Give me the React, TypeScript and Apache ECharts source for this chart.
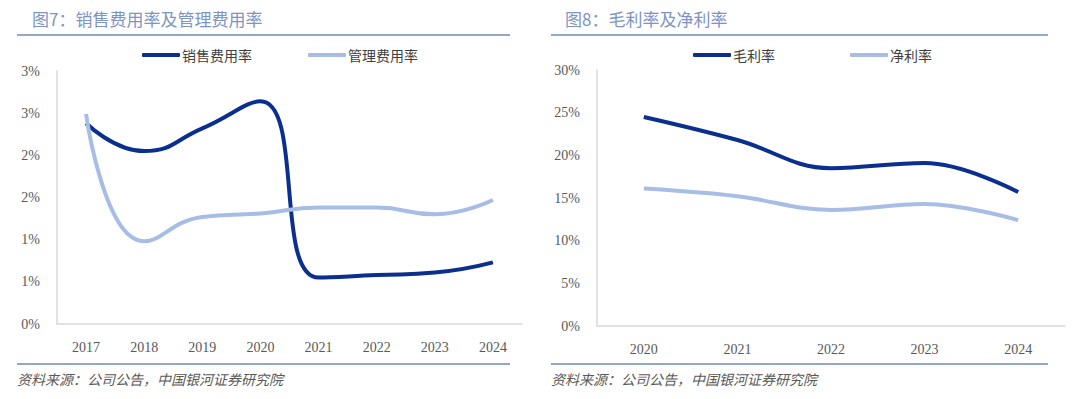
import React, { useEffect, useRef } from "react";
import * as echarts from "echarts";

const leftYears = ["2017", "2018", "2019", "2020", "2021", "2022", "2023", "2024"];
const salesExpenseRate = [2.38, 2.05, 2.32, 2.64, 0.55, 0.58, 0.61, 0.73];
const adminExpenseRate = [2.49, 0.98, 1.27, 1.31, 1.38, 1.38, 1.3, 1.47];
const leftTickLabels = ["0%", "1%", "1%", "2%", "2%", "3%", "3%"];

const rightYears = ["2020", "2021", "2022", "2023", "2024"];
const grossMargin = [24.5, 21.8, 18.5, 19.1, 15.7];
const netMargin = [16.1, 15.2, 13.6, 14.3, 12.4];
const rightTickLabels = ["0%", "5%", "10%", "15%", "20%", "25%", "30%"];

const DARK = "#0b2f8e";
const LIGHT = "#a7bde6";
const AXIS_TEXT = "#595959";
const CJK = "'Noto Sans CJK SC', 'Noto Sans', sans-serif";
const NUM = "'Liberation Serif', 'DejaVu Serif', serif";

export default function App() {
  const ref = useRef<HTMLDivElement>(null);
  useEffect(() => {
    document.body.style.margin = "0";
    const chart = echarts.init(ref.current!, null, { renderer: "svg" });
    const axisLabel = { color: AXIS_TEXT, fontFamily: NUM, fontSize: 14 };
    const lineStyleAxis = { show: true, lineStyle: { color: "#d9d9d9", width: 1.5 } };
    const legendText = { fontFamily: CJK, fontSize: 14, color: "#404040", padding: [0, 0, 0, -3] };
    chart.setOption({
      animation: false,
      backgroundColor: "#ffffff",
      grid: [
        { left: 57, top: 71, width: 465, height: 253 },
        { left: 597, top: 70, width: 468, height: 256 },
      ],
      legend: [
        {
          data: ["销售费用率", "管理费用率"],
          left: 142,
          top: 48,
          padding: 0,
          itemWidth: 38,
          itemHeight: 4,
          itemGap: 56,
          icon: "roundRect",
          textStyle: legendText,
        },
        {
          data: ["毛利率", "净利率"],
          left: 693,
          top: 48,
          padding: 0,
          itemWidth: 38,
          itemHeight: 4,
          itemGap: 75,
          icon: "roundRect",
          textStyle: legendText,
        },
      ],
      xAxis: [
        {
          type: "category",
          gridIndex: 0,
          data: leftYears,
          axisLine: lineStyleAxis,
          axisTick: { show: false },
          axisLabel: { ...axisLabel, margin: 16 },
        },
        {
          type: "category",
          gridIndex: 1,
          data: rightYears,
          axisLine: lineStyleAxis,
          axisTick: { show: false },
          axisLabel: { ...axisLabel, margin: 16 },
        },
      ],
      yAxis: [
        {
          type: "value",
          gridIndex: 0,
          min: 0,
          max: 3,
          interval: 0.5,
          axisLine: lineStyleAxis,
          axisTick: { show: false },
          splitLine: { show: false },
          axisLabel: { ...axisLabel, margin: 17, formatter: (_v: number, i: number) => leftTickLabels[i] },
        },
        {
          type: "value",
          gridIndex: 1,
          min: 0,
          max: 30,
          interval: 5,
          axisLine: lineStyleAxis,
          axisTick: { show: false },
          splitLine: { show: false },
          axisLabel: { ...axisLabel, margin: 17, formatter: (_v: number, i: number) => rightTickLabels[i] },
        },
      ],
      series: [
        {
          name: "销售费用率",
          type: "line",
          xAxisIndex: 0,
          yAxisIndex: 0,
          data: salesExpenseRate,
          smooth: 0.5,
          showSymbol: false,
          color: DARK,
          lineStyle: { width: 4, color: DARK },
        },
        {
          name: "管理费用率",
          type: "line",
          xAxisIndex: 0,
          yAxisIndex: 0,
          data: adminExpenseRate,
          smooth: 0.5,
          showSymbol: false,
          color: LIGHT,
          lineStyle: { width: 4, color: LIGHT },
        },
        {
          name: "毛利率",
          type: "line",
          xAxisIndex: 1,
          yAxisIndex: 1,
          data: grossMargin,
          smooth: 0.4,
          showSymbol: false,
          color: DARK,
          lineStyle: { width: 4, color: DARK },
        },
        {
          name: "净利率",
          type: "line",
          xAxisIndex: 1,
          yAxisIndex: 1,
          data: netMargin,
          smooth: 0.4,
          showSymbol: false,
          color: LIGHT,
          lineStyle: { width: 4, color: LIGHT },
        },
      ],
      graphic: [
        {
          type: "text",
          left: 32,
          top: 10,
          style: { text: "图7：销售费用率及管理费用率", fontFamily: CJK, fontSize: 17, fill: "#7d94c4" },
        },
        {
          type: "text",
          left: 565,
          top: 10,
          style: { text: "图8：毛利率及净利率", fontFamily: CJK, fontSize: 17, fill: "#7d94c4" },
        },
        { type: "line", shape: { x1: 17, y1: 35, x2: 510, y2: 35 }, style: { stroke: "#6f89bd", lineWidth: 1.5 } },
        { type: "line", shape: { x1: 551, y1: 35, x2: 1048, y2: 35 }, style: { stroke: "#6f89bd", lineWidth: 1.5 } },
        { type: "line", shape: { x1: 17, y1: 364, x2: 510, y2: 364 }, style: { stroke: "#6f89bd", lineWidth: 1.5 } },
        { type: "line", shape: { x1: 551, y1: 364, x2: 1048, y2: 364 }, style: { stroke: "#6f89bd", lineWidth: 1.5 } },
        {
          type: "text",
          left: 17,
          top: 372,
          style: { text: "资料来源：公司公告，中国银河证券研究院", fontFamily: CJK, fontSize: 14, fontStyle: "italic", fill: "#595959" },
        },
        {
          type: "text",
          left: 551,
          top: 372,
          style: { text: "资料来源：公司公告，中国银河证券研究院", fontFamily: CJK, fontSize: 14, fontStyle: "italic", fill: "#595959" },
        },
      ],
    });
    return () => chart.dispose();
  }, []);
  return <div ref={ref} style={{ width: 1080, height: 399 }} />;
}
